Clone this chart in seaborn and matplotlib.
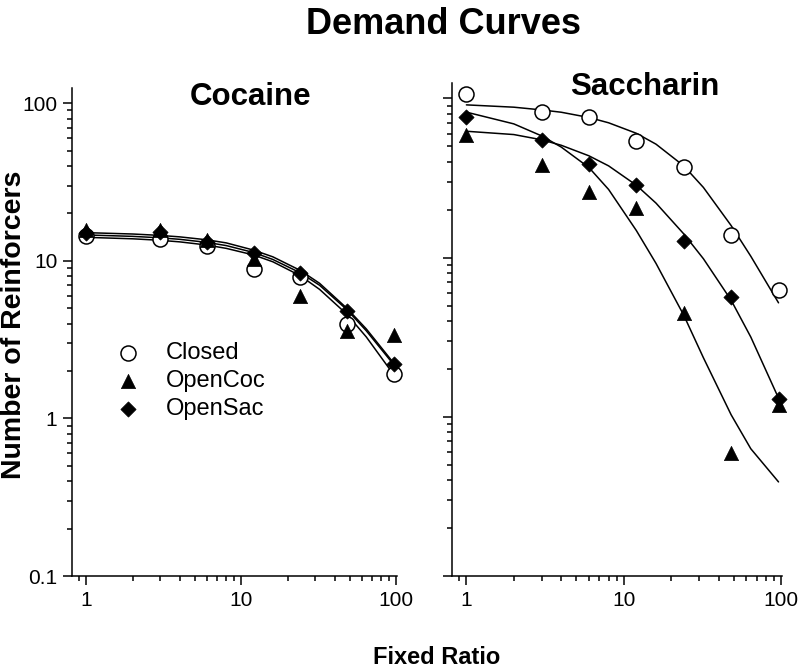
import matplotlib
matplotlib.use("Agg")
import matplotlib.pyplot as plt
from matplotlib.ticker import FixedLocator, FixedFormatter, LogLocator, NullFormatter
import seaborn as sns
import pandas as pd

# ---- data ----
fixed_ratio = [1, 3, 6, 12, 24, 48, 96]
groups = ["Closed", "OpenCoc", "OpenSac"]

coc_closed = [14.3, 13.8, 12.5, 8.9, 7.9, 3.95, 1.9]
coc_opencoc = [15.6, 15.6, 13.6, 10.3, 6.0, 3.6, 3.4]
coc_opensac = [15.1, 15.3, 13.2, 11.2, 8.4, 4.8, 2.2]

sac_closed = [106, 81.7, 76, 53.7, 37.2, 13.9, 6.3]
sac_opencoc = [59.2, 38.2, 25.8, 20.6, 4.5, 0.59, 1.19]
sac_opensac = [76, 55, 38.9, 28.6, 12.8, 5.66, 1.29]

# fitted curves, read at these fixed ratios
curve_fr = [1, 2, 3, 4, 6, 8, 12, 16, 24, 32, 48, 64, 96]
coc_closed_fit = [14.1, 13.8, 13.5, 13.2, 12.6, 12.0, 10.9, 9.86, 8.05, 6.59, 4.58, 3.29, 1.90]
coc_opencoc_fit = [14.6, 14.3, 14.0, 13.7, 13.1, 12.5, 11.3, 10.2, 8.4, 7.0, 4.9, 3.6, 2.2]
coc_opensac_fit = [15.1, 14.8, 14.5, 14.2, 13.6, 13.0, 11.7, 10.6, 8.7, 7.2, 5.0, 3.7, 2.25]

sac_closed_fit = [91.1, 88.1, 84.7, 81.9, 75.9, 70.3, 60.4, 51.6, 37.7, 27.6, 15.9, 10.2, 5.2]
sac_opencoc_fit = [82.0, 69.2, 58.2, 49.5, 36.8, 26.8, 14.8, 9.2, 4.35, 2.35, 1.03, 0.63, 0.39]
sac_opensac_fit = [62.2, 59.3, 55.0, 50.8, 43.6, 37.7, 28.5, 22.0, 14.1, 9.84, 5.40, 3.17, 1.31]

y_ticks = [0.1, 1, 10, 100]
y_ticklabels = ["0.1", "1", "10", "100"]
x_ticks = [1, 10, 100]
x_ticklabels = ["1", "10", "100"]

# ---- styling ----
sns.set_style("ticks")
plt.rcParams["font.family"] = ["Liberation Sans", "DejaVu Sans"]
for key in ["text.color", "axes.labelcolor", "xtick.color", "ytick.color", "axes.edgecolor"]:
    plt.rcParams[key] = "black"

marker_style = {
    "Closed": dict(marker="o", s=117, facecolor="white", edgecolor="black", linewidth=1.1),
    "OpenCoc": dict(marker="^", s=105, facecolor="black", edgecolor="black", linewidth=0.5),
    "OpenSac": dict(marker="D", s=60, facecolor="black", edgecolor="black", linewidth=0.5),
}

fig = plt.figure(figsize=(8, 6.67), dpi=100)
ax_l = fig.add_axes([72 / 800, 1 - 576 / 667, 325 / 800, 488 / 667])
ax_r = fig.add_axes([452 / 800, 1 - 576 / 667, 330 / 800, 493 / 667])

panels = [
    (ax_l, [coc_closed, coc_opencoc, coc_opensac], [coc_closed_fit, coc_opencoc_fit, coc_opensac_fit]),
    (ax_r, [sac_closed, sac_opencoc, sac_opensac], [sac_closed_fit, sac_opencoc_fit, sac_opensac_fit]),
]

for ax, pts, fits in panels:
    for g, fit in zip(groups, fits):
        dfc = pd.DataFrame({"fr": curve_fr, "q": fit})
        sns.lineplot(data=dfc, x="fr", y="q", ax=ax, color="black", linewidth=1.1,
                     sort=False, estimator=None, zorder=2)
    for g, vals in zip(groups, pts):
        dfp = pd.DataFrame({"fr": fixed_ratio, "q": vals})
        sns.scatterplot(data=dfp, x="fr", y="q", ax=ax, label=g, clip_on=False,
                        zorder=3, **marker_style[g])
    ax.set_xscale("log")
    ax.set_yscale("log")
    ax.set_xlim(0.81, 101)
    ax.set_ylim(0.1, 125)
    ax.set_xlabel("")
    ax.set_ylabel("")
    for side in ["top", "right"]:
        ax.spines[side].set_visible(False)
    for side in ["left", "bottom"]:
        ax.spines[side].set_linewidth(1.1)
        ax.spines[side].set_color("black")
    ax.xaxis.set_major_locator(FixedLocator(x_ticks))
    ax.xaxis.set_major_formatter(FixedFormatter(x_ticklabels))
    ax.yaxis.set_major_locator(FixedLocator(y_ticks))
    ax.yaxis.set_major_formatter(FixedFormatter(y_ticklabels))
    ax.xaxis.set_minor_locator(LogLocator(base=10, subs=range(2, 10)))
    ax.yaxis.set_minor_locator(LogLocator(base=10, subs=range(2, 10)))
    ax.xaxis.set_minor_formatter(NullFormatter())
    ax.yaxis.set_minor_formatter(NullFormatter())
    ax.tick_params(which="major", length=6.5, width=1.1, labelsize=15, color="black",
                   labelcolor="black", pad=4)
    ax.tick_params(which="minor", length=3.5, width=1.1, color="black")
    ax.patch.set_alpha(0)

ax_r.tick_params(axis="y", which="both", labelleft=False)
if ax_r.get_legend():
    ax_r.get_legend().remove()

leg = ax_l.legend(loc="center left", bbox_to_anchor=(0.135, 0.3996), frameon=False,
                  fontsize=17, handlelength=1.0, handletextpad=1.1, labelspacing=0.25,
                  borderpad=0, borderaxespad=0)

fig.text(443 / 800, 1 - 24 / 667, "Demand Curves", ha="center", va="center",
         fontsize=26, fontweight="bold")
fig.text(251 / 800, 1 - 97 / 667, "Cocaine", ha="center", va="center",
         fontsize=22.5, fontweight="bold")
fig.text(645 / 800, 1 - 87 / 667, "Saccharin", ha="center", va="center",
         fontsize=22.5, fontweight="bold")
fig.text(14 / 800, 1 - 325 / 667, "Number of Reinforcers", ha="center", va="center",
         rotation=90, fontsize=20.5, fontweight="bold")
fig.text(437 / 800, 1 - 657 / 667, "Fixed Ratio", ha="center", va="center",
         fontsize=17, fontweight="bold")

fig.savefig("out.png", dpi=100, facecolor="white")
